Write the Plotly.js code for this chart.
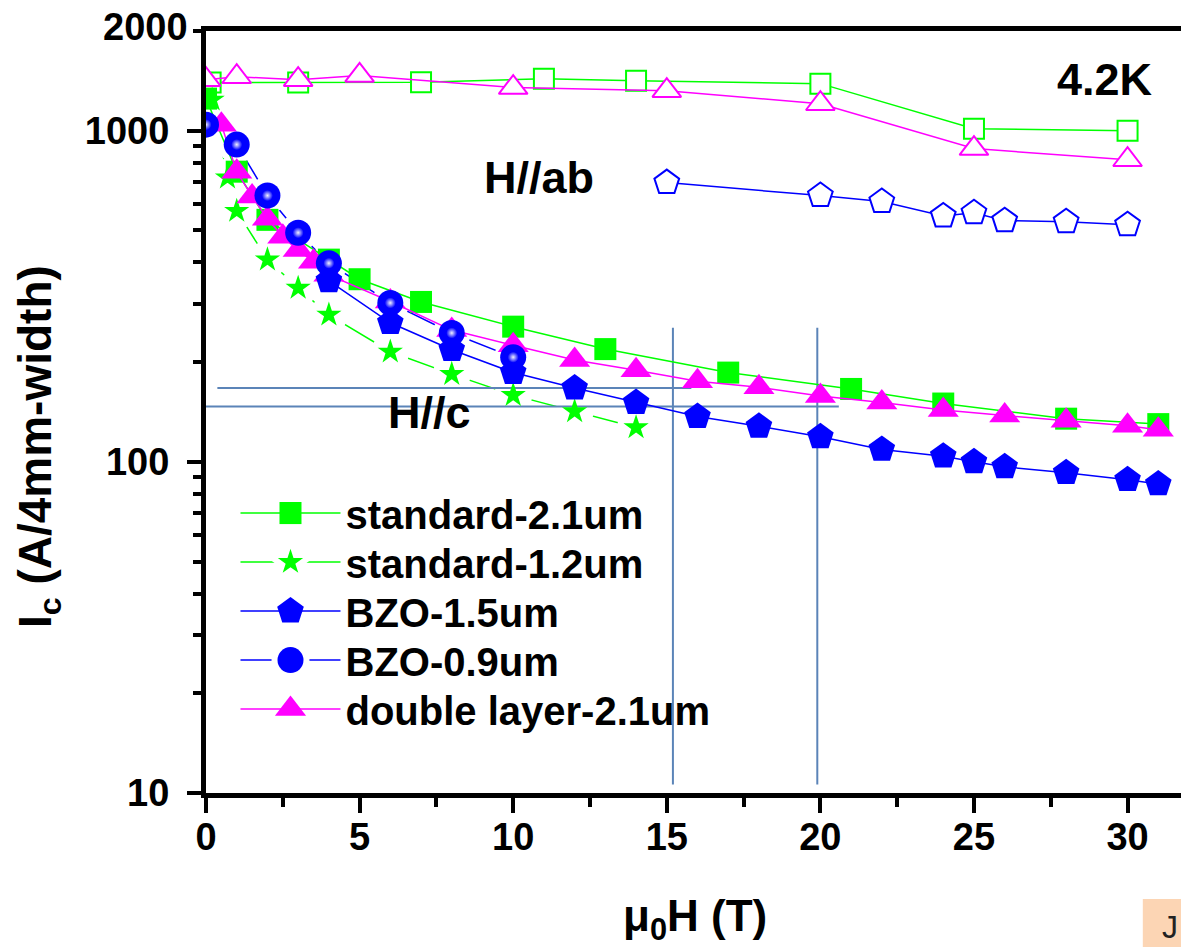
<!DOCTYPE html>
<html>
<head>
<meta charset="utf-8">
<script src="https://cdn.plot.ly/plotly-3.0.1.min.js"></script>
<style>
html, body { margin: 0; padding: 0; overflow: hidden; background: #fff; }
#chart { width: 1195px; height: 947px; }
</style>
</head>
<body>
<div id="chart"></div>
<script>
// ---------- data ----------
// H//c series
const std21_x = [0, 1, 2, 4, 5, 7, 10, 13, 17, 21, 24, 28, 31];
const std21_y = [1250, 752, 538, 408, 356, 304, 256, 219, 186, 166, 150, 135, 130];

const std12_x = [0.2, 0.7, 1, 2, 3, 4, 6, 8, 10, 12, 14];
const std12_y = [1240, 721, 572, 408, 335, 278, 215, 184, 159, 142, 127];

const bzo15_x = [4, 6, 8, 10, 12, 14, 16, 18, 20, 22, 24, 25, 26, 28, 30, 31];
const bzo15_y = [352, 263, 218, 186, 167, 151, 137, 128, 119, 109, 104, 100, 96.6, 92.7, 88.3, 85.7];

const bzo09_x = [0, 1, 2, 3, 4, 6, 8, 10];
const bzo09_y = [1043, 908, 637, 492, 398, 302, 245, 207];

const dl21_x = [0.5, 1, 1.5, 2, 2.5, 3, 3.5, 4, 6, 8, 10, 12, 14, 16, 18, 20, 22, 24, 26, 28, 30, 31];
const dl21_y = [1043, 752, 633, 542, 478, 436, 402, 367, 305, 250, 225, 203, 189, 175, 168, 158, 151, 143.5, 138, 133, 128.5, 125];

// H//ab series (open symbols)
const std21ab_x = [0.15, 3, 7, 11, 14, 20, 25, 30];
const std21ab_y = [1397, 1397, 1400, 1436, 1416, 1387, 1014, 1000];

const dl21ab_x = [0, 1, 3, 5, 10, 15, 20, 25, 30];
const dl21ab_y = [1426, 1455, 1426, 1469, 1350, 1321, 1206, 883, 817];

const bzo15ab_x = [15, 20, 22, 24, 25, 26, 28, 30];
const bzo15ab_y = [697, 637, 611, 553, 565, 535, 531, 520];

// guide lines
const guideX = [15.2, 19.9];           // vertical lines (T)
const guideXspan = [10.6, 254];        // their extent in Ic
const guideY = [167, 147];             // horizontal lines (Ic)
const guideYfrom = [0.37, 0];          // start field (T)
const guideYto = [15.8, 20.6];         // end field (T)

const seriesNames = ['standard-2.1um', 'standard-1.2um', 'BZO-1.5um', 'BZO-0.9um', 'double layer-2.1um'];
const xTickVals = [0, 5, 10, 15, 20, 25, 30];

// ---------- styles ----------
const GREEN = '#00ff00', BLUE = '#0000ff', MAG = '#ff00ff', GUIDE = '#5b84b8';
const FONT = 'Liberation Sans, Arial, sans-serif';

const traces = [];
// lines of the "gap to symbol" series, with white halos that open the gaps
traces.push({x: std12_x, y: std12_y, mode: 'lines', showlegend: false, hoverinfo: 'skip',
  line: {color: GREEN, width: 1.5}});
traces.push({x: bzo09_x, y: bzo09_y, mode: 'lines', showlegend: false, hoverinfo: 'skip',
  line: {color: BLUE, width: 1.5}});
traces.push({x: std12_x, y: std12_y, mode: 'markers', showlegend: false, hoverinfo: 'skip',
  marker: {symbol: 'circle', size: 38, color: 'white'}});
traces.push({x: bzo09_x, y: bzo09_y, mode: 'markers', showlegend: false, hoverinfo: 'skip',
  marker: {symbol: 'circle', size: 38, color: 'white'}});
// guide lines
guideX.forEach(function (gx) {
  traces.push({x: [gx, gx], y: guideXspan, mode: 'lines', showlegend: false, hoverinfo: 'skip',
    line: {color: GUIDE, width: 2}});
});
guideY.forEach(function (gy, i) {
  traces.push({x: [guideYfrom[i], guideYto[i]], y: [gy, gy], mode: 'lines', showlegend: false, hoverinfo: 'skip',
    line: {color: GUIDE, width: 2}});
});
// open H//ab series
traces.push({x: std21ab_x, y: std21ab_y, mode: 'lines+markers', showlegend: false, hoverinfo: 'skip',
  line: {color: GREEN, width: 1.5},
  marker: {symbol: 'square', size: 20, color: 'white', line: {color: GREEN, width: 2}}});
traces.push({x: dl21ab_x, y: dl21ab_y, mode: 'lines+markers', showlegend: false, hoverinfo: 'skip',
  line: {color: MAG, width: 1.5},
  marker: {symbol: 'triangle-up', size: 25, color: 'white', line: {color: MAG, width: 2}}});
traces.push({x: bzo15ab_x, y: bzo15ab_y, mode: 'lines+markers', showlegend: false, hoverinfo: 'skip',
  line: {color: BLUE, width: 1.5},
  marker: {symbol: 'pentagon', size: 26, color: 'white', line: {color: BLUE, width: 2}}});
// H//c series
traces.push({x: std21_x, y: std21_y, name: seriesNames[0], legendrank: 1, mode: 'lines+markers',
  line: {color: GREEN, width: 1.5}, marker: {symbol: 'square', size: 22, color: GREEN}});
traces.push({x: std12_x, y: std12_y, name: seriesNames[1], legendrank: 2, mode: 'lines+markers', uid: 'gapA',
  line: {color: GREEN, width: 1.5}, marker: {symbol: 'star', size: 19, color: GREEN}});
traces.push({x: dl21_x, y: dl21_y, name: seriesNames[4], legendrank: 5, mode: 'lines+markers',
  line: {color: MAG, width: 1.5}, marker: {symbol: 'triangle-up', size: 27, color: MAG}});
traces.push({x: bzo15_x, y: bzo15_y, name: seriesNames[2], legendrank: 3, mode: 'lines+markers',
  line: {color: BLUE, width: 1.5}, marker: {symbol: 'pentagon', size: 28, color: BLUE}});
traces.push({x: bzo09_x, y: bzo09_y, name: seriesNames[3], legendrank: 4, mode: 'lines+markers', uid: 'gapB',
  line: {color: BLUE, width: 1.5}, marker: {symbol: 'circle', size: 26, color: BLUE}});
// sphere highlight
traces.push({x: bzo09_x, y: bzo09_y, mode: 'markers', showlegend: false, hoverinfo: 'skip',
  marker: {symbol: 'circle', size: 11, color: BLUE, gradient: {type: 'radial', color: '#f0f0ff'}}});

const shapes = [
  {type: 'rect', xref: 'paper', yref: 'paper', x0: 0.953, x1: 1.01, y0: -0.21, y1: -0.139,
   line: {width: 0}, fillcolor: '#fcd5b4'}
];

const tickFont = {family: FONT, size: 38, color: 'black', weight: 'bold'};
const annFont = {family: FONT, size: 45, color: 'black', weight: 'bold'};

const annotations = [
  {xref: 'paper', yref: 'y', x: -0.0163, y: Math.log10(2000), xanchor: 'right', yanchor: 'middle', yshift: 4,
   text: '2000', showarrow: false, font: tickFont},
  {xref: 'x', yref: 'y', x: 29.27, y: 3.154, text: '4.2K', showarrow: false, font: annFont},
  {xref: 'x', yref: 'y', x: 10.84, y: 2.858, text: 'H//ab', showarrow: false, font: annFont},
  {xref: 'x', yref: 'y', x: 7.26, y: 2.148, text: 'H//c', showarrow: false, font: annFont},
  {xref: 'paper', yref: 'paper', x: -0.1709, y: 0.454, xanchor: 'center', yanchor: 'middle', textangle: -90,
   showarrow: false, text: 'I<sub>c</sub> (A/4mm-width)',
   font: {family: FONT, size: 46, color: 'black', weight: 'bold'}},
  {xref: 'paper', yref: 'paper', x: 0.497, y: -0.166, xanchor: 'center', yanchor: 'middle', showarrow: false,
   text: '\u03bc<sub>0</sub>H (T)', font: {family: FONT, size: 44, color: 'black', weight: 'bold'}},
  {xref: 'paper', yref: 'paper', x: 0.9807, y: -0.176, xanchor: 'center', yanchor: 'middle', showarrow: false,
   text: 'J', font: {family: FONT, size: 32, color: '#222'}}
];

const layout = {
  width: 1195, height: 947,
  margin: {l: 206, r: 6, t: 31, b: 154},
  paper_bgcolor: 'white', plot_bgcolor: 'white',
  showlegend: true,
  legend: {x: 0.03, y: 0.41, xanchor: 'left', yanchor: 'top', bgcolor: 'rgba(0,0,0,0)',
    font: {family: FONT, size: 40, color: 'black', weight: 'bold'}, itemwidth: 100, tracegroupgap: 0},
  xaxis: {range: [0, 32], tickvals: xTickVals, ticks: 'outside', ticklen: 15, tickwidth: 4, tickcolor: 'black',
    showline: true, linewidth: 5, linecolor: 'black', mirror: true, showgrid: false, zeroline: false,
    tickfont: tickFont, ticklabelstandoff: -9,
    minor: {dtick: 2.5, ticks: 'outside', ticklen: 9, tickwidth: 4, tickcolor: 'black', showgrid: false}},
  xaxis2: {range: [0, 32], overlaying: 'x', side: 'top', ticks: 'inside', ticklen: 13, tickwidth: 4, tickcolor: 'black',
    tickvals: xTickVals, showticklabels: false, showline: false, showgrid: false, zeroline: false,
    minor: {dtick: 2.5, ticks: 'inside', ticklen: 7, tickwidth: 4, tickcolor: 'black', showgrid: false}},
  yaxis: {type: 'log', range: [1, Math.log10(2000)], dtick: 1, exponentformat: 'none', ticks: 'outside', ticklen: 14, tickwidth: 4,
    tickcolor: 'black', showline: true, linewidth: 5, linecolor: 'black', mirror: true, showgrid: false, zeroline: false,
    tickfont: tickFont, ticklabelstandoff: 10,
    minor: {dtick: 'D1', ticks: 'outside', ticklen: 8, tickwidth: 4, tickcolor: 'black', showgrid: false}},
  yaxis2: {type: 'log', range: [1, Math.log10(2000)], dtick: 1, overlaying: 'y', side: 'right', ticks: 'inside', ticklen: 13,
    tickwidth: 4, tickcolor: 'black', showticklabels: false, showline: false, showgrid: false, zeroline: false,
    minor: {dtick: 'D1', ticks: 'inside', ticklen: 7, tickwidth: 4, tickcolor: 'black', showgrid: false}},
  shapes: shapes,
  annotations: annotations
};

Plotly.newPlot('chart', traces, layout, {displayModeBar: false, staticPlot: true}).then(function (gd) {
  // the two "gap to symbol" series: their line is drawn by the separate line trace under the halos
  gd.querySelectorAll('.scatterlayer .trace').forEach(function (g) {
    const d = g.__data__;
    if (!d || !d[0] || !d[0].trace) return;
    const uid = d[0].trace.uid;
    if (uid === 'gapA' || uid === 'gapB') {
      g.querySelectorAll('path.js-line').forEach(function (p) { p.style.display = 'none'; });
    }
  });
  // legend: symbols at plot size, row pitch as in the reference, gaps round two symbols
  const items = Array.from(gd.querySelectorAll('.legend .traces'));
  let y0 = null;
  items.forEach(function (g, i) {
    const d = g.__data__;
    if (!d || !d[0] || !d[0].trace) return;
    const tr = d[0].trace;
    const sz = tr.marker.size;
    const k = sz / Math.min(sz, 16);
    g.querySelectorAll('.legendpoints path.scatterpts').forEach(function (p) {
      const t = p.getAttribute('transform') || '';
      p.setAttribute('transform', t + ' scale(' + k + ')');
      if (tr.uid === 'gapA' || tr.uid === 'gapB') {
        p.style.stroke = 'white';
        p.style.strokeWidth = (12 / k) + 'px';
        p.style.paintOrder = 'stroke';
        p.style.strokeOpacity = 1;
      }
    });
    const m = /translate\(\s*([-\d.]+)[ ,]+([-\d.]+)\s*\)/.exec(g.getAttribute('transform') || '');
    if (m) {
      if (y0 === null) y0 = parseFloat(m[2]);
      g.setAttribute('transform', 'translate(' + m[1] + ',' + (y0 + i * 49) + ')');
    }
  });
});
</script>
</body>
</html>
